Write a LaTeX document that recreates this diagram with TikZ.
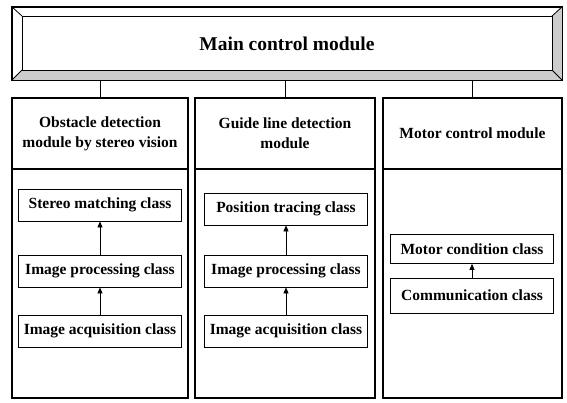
\documentclass[tikz,border=0pt]{standalone}
\usepackage{fontspec}
\setmainfont{Liberation Serif}
\usetikzlibrary{arrows.meta}

\tikzset{
  modtitle/.style={draw, line width=1.4pt, minimum width=178pt, minimum height=71pt,
    inner sep=0pt, align=center, font=\fontsize{15.5}{20}\selectfont\bfseries},
  modbody/.style={draw, line width=1.4pt, minimum width=178pt, minimum height=229pt, inner sep=0pt},
  classbox/.style={draw, line width=0.7pt, minimum width=163pt, minimum height=32pt,
    inner sep=0pt, font=\fontsize{15.5}{18}\selectfont\bfseries},
  uparrow/.style={line width=0.7pt, -{Triangle[length=6pt,width=5pt]}},
}

\begin{document}
\begin{tikzpicture}[x=1pt,y=-1pt]
\useasboundingbox (0,0) rectangle (567,402);

% main module with bevelled frame
\node[draw, line width=1.2pt, minimum width=550pt, minimum height=73pt, inner sep=0pt,
  font=\fontsize{19.5}{24}\selectfont\bfseries] (main) at (287,43.5) {Main control module};
\coordinate (in1) at (22,16);
\coordinate (in2) at (552,70);
\fill[gray!40] (main.south west) -- (22,70) -- (552,70) -- (552,16) -- (main.north east) -- (main.south east) -- cycle;
\draw[line width=0.8pt] (in1) rectangle (in2);
\draw[line width=0.8pt] (main.north west) -- (22,16);
\draw[line width=0.8pt] (main.north east) -- (552,16);
\draw[line width=0.8pt] (main.south west) -- (22,70);
\draw[line width=0.8pt] (main.south east) -- (552,70);
\draw[line width=1.2pt] (main.north west) rectangle (main.south east);

% module columns
\node[modtitle, minimum width=176pt] (obs) at (100,133.5) {Obstacle detection\\module by stereo vision};
\node[modbody, minimum width=176pt] (obsbody) at (100,283.5) {};
\node[modtitle, minimum width=180pt] (gld) at (285,133.5) {Guide line detection\\module};
\node[modbody, minimum width=180pt] (gldbody) at (285,283.5) {};
\node[modtitle, minimum width=179pt] (mot) at (472.5,133.5) {Motor control module};
\node[modbody, minimum width=179pt] (motbody) at (472.5,283.5) {};

\draw[line width=1pt] (main.south -| obs.north) -- (obs.north);
\draw[line width=1pt] (main.south -| gld.north) -- (gld.north);
\draw[line width=1pt] (main.south -| mot.north) -- (mot.north);

% classes of obstacle detection
\node[classbox] (stereo) at (100,205) {Stereo matching class};
\node[classbox] (proc1) at (100,271) {Image processing class};
\node[classbox] (acq1) at (100,331) {Image acquisition class};
\draw[uparrow] (proc1) -- (stereo);
\draw[uparrow] (acq1) -- (proc1);

% classes of guide line detection
\node[classbox] (trace) at (286,209) {Position tracing class};
\node[classbox] (proc2) at (286,271) {Image processing class};
\node[classbox] (acq2) at (286,331) {Image acquisition class};
\draw[uparrow] (proc2) -- (trace);
\draw[uparrow] (acq2) -- (proc2);

% classes of motor control
\node[classbox, minimum height=29pt] (cond) at (472,249) {Motor condition class};
\node[classbox, minimum height=35pt] (comm) at (472,295.5) {Communication class};
\draw[uparrow] (comm) -- (cond);

\end{tikzpicture}
\end{document}
